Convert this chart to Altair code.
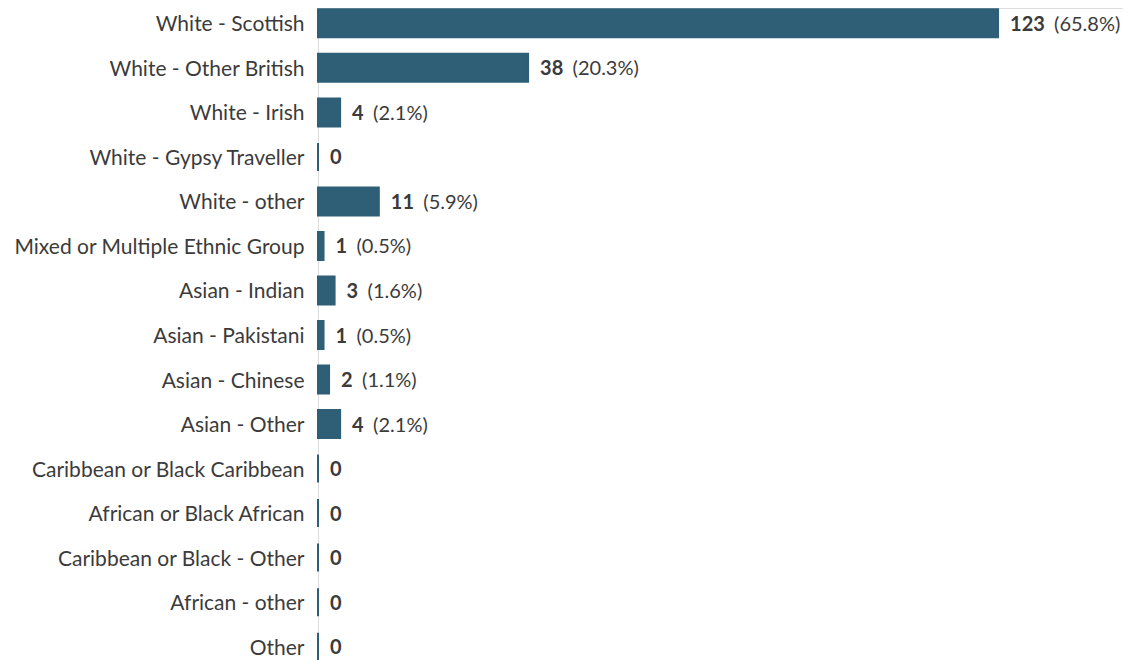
import altair as alt
import pandas as pd

categories = [
    "White - Scottish",
    "White - Other British",
    "White - Irish",
    "White - Gypsy Traveller",
    "White - other",
    "Mixed or Multiple Ethnic Group",
    "Asian - Indian",
    "Asian - Pakistani",
    "Asian - Chinese",
    "Asian - Other",
    "Caribbean or Black Caribbean",
    "African or Black African",
    "Caribbean or Black - Other",
    "African - other",
    "Other",
]
counts = [123, 38, 4, 0, 11, 1, 3, 1, 2, 4, 0, 0, 0, 0, 0]
percents = [65.8, 20.3, 2.1, 0.0, 5.9, 0.5, 1.6, 0.5, 1.1, 2.1, 0.0, 0.0, 0.0, 0.0, 0.0]

df = pd.DataFrame({"category": categories, "count": counts, "pct": percents})

BAR = "#2e5f77"
TXT = "#3b3b3b"
FONT = "Lato"

y_enc = alt.Y(
    "category:N",
    sort=categories,
    scale=alt.Scale(paddingInner=0.371, paddingOuter=0.03),
    axis=alt.Axis(
        title=None,
        ticks=False,
        domain=False,
        labelFont=FONT,
        labelFontSize=21,
        labelColor=TXT,
        labelPadding=14,
        labelOffset=2,
        labelLimit=400,
        minExtent=310,
        maxExtent=310,
    ),
)
x_enc = alt.X(
    "count:Q",
    scale=alt.Scale(domain=[0, 145.6], nice=False),
    axis=None,
)

base = alt.Chart(df)

bars = base.mark_bar(color=BAR, stroke=BAR, strokeWidth=2).encode(x=x_enc, y=y_enc)

count_text = base.mark_text(
    align="left", baseline="middle", dx=12, dy=1.5, font=FONT, fontSize=20,
    fontWeight="bold", color=TXT,
).encode(x=x_enc, y=y_enc, text=alt.Text("count:Q"))

pct_text = (
    base.transform_filter("datum.count > 0")
    .transform_calculate(label="'(' + format(datum.pct, '.1f') + '%)'")
    .mark_text(
        align="left", baseline="middle", dy=1.5,
        dx=alt.expr("21.5 + length(toString(datum.count)) * 11.5"),
        font=FONT, fontSize=20, color=TXT,
    )
    .encode(x=x_enc, y=y_enc, text="label:N")
)

chart = (
    alt.layer(bars, count_text, pct_text)
    .properties(width=805, height=654, padding=0)
    .configure_view(stroke=None)
    .configure(background="white")
)

chart.save("out.html", embed_options={"renderer": "svg", "actions": False})
